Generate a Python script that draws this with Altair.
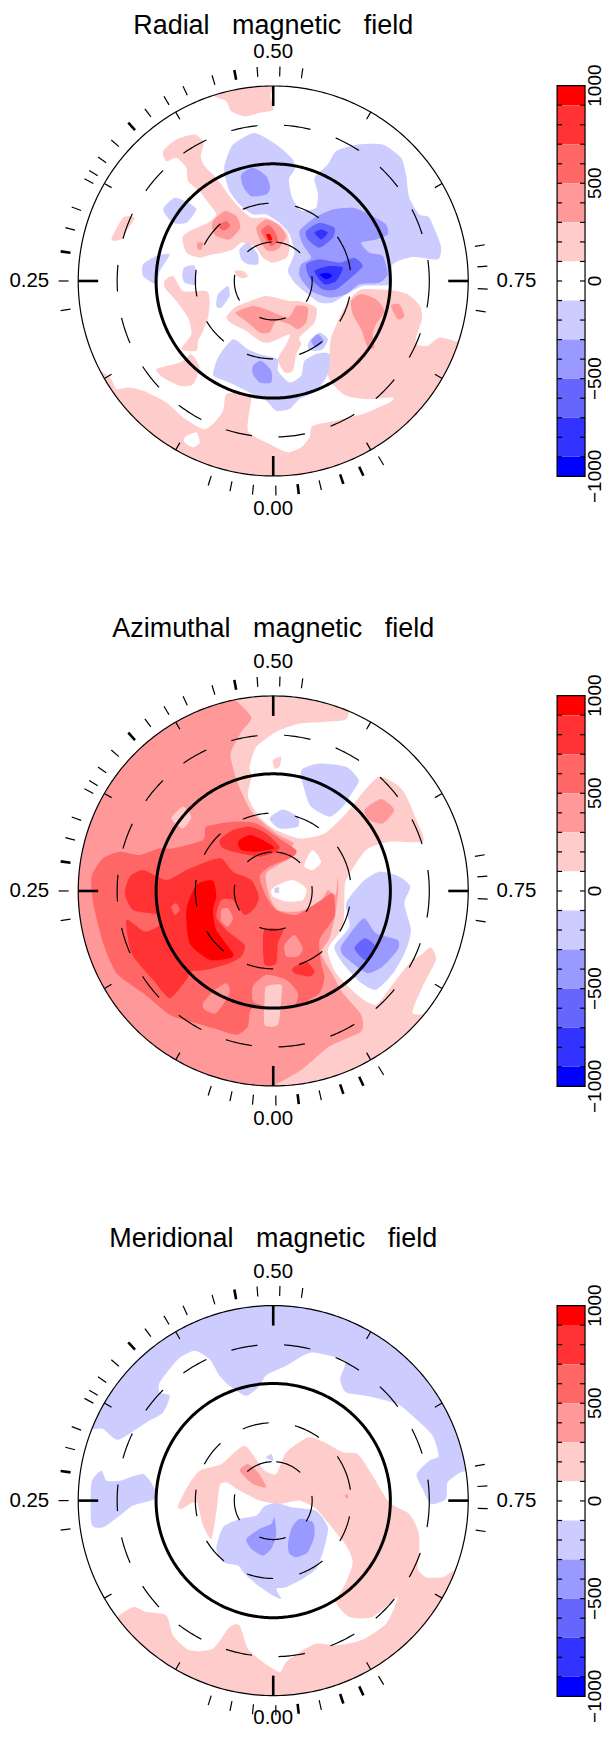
import numpy as np
import pandas as pd
import altair as alt

# ---- colour levels -------------------------------------------------------
LEVELS = ["w", "p1", "p2", "p3", "p4", "p5", "n1", "n2", "n3", "n4", "n5"]
COLORS = ["#ffffff", "#ffcccc", "#ff9999", "#ff6666", "#ff3333", "#ff0000",
          "#ccccff", "#9999ff", "#6666ff", "#3333ff", "#0000ff"]
BAND_LOW = [900, 700, 500, 300, 100, -100, -300, -500, -700, -900, -1000]
BAND_HIGH = [1000, 900, 700, 500, 300, 100, -100, -300, -500, -700, -900]
BAND_LEVEL = ["p5", "p4", "p3", "p2", "p1", "w", "n1", "n2", "n3", "n4", "n5"]
BAR_TICKS = [-900, -800, -700, -600, -500, -400, -300, -200, -100, 0, 100, 200, 300, 400, 500, 600, 700, 800, 900]
BAR_LABELS = [-1000, -500, 0, 500, 1000]

# observation phases (outer ticks)
PHASES = [0.998, 0.0154, 0.0323, 0.049, 0.964, 0.914, 0.773, 0.756, 0.739, 0.723,
          0.522, 0.505, 0.488, 0.454, 0.431, 0.415, 0.398, 0.364, 0.348, 0.336,
          0.329, 0.306, 0.29, 0.25, 0.228]
PHASES_BOLD = [0.981, 0.947, 0.931, 0.471, 0.382, 0.272]
GRID_PHASES = [1/12, 2/12, 4/12, 5/12, 7/12, 8/12, 10/12, 11/12]
QUARTER_PHASES = [0, 0.25, 0.5, 0.75]

# contour outlines in map units (3 units per pixel); "rim:a:b" follows the limb
RADIAL = [
 ("p1", [645,275,730,250,815,248,812,285,822,325,780,335,735,345,695,330,680,300,650,288]),
 ("p1", [490,450,530,415,585,400,612,425,603,465,615,495,640,520,665,550,690,585,720,620,755,650,800,650,840,670,865,700,870,745,860,770,820,785,790,770,770,740,750,730,725,725,700,745,670,755,640,760,600,770,560,755,548,710,570,690,625,665,650,640,630,610,600,570,565,540,560,500,530,470,500,480]),
 ("p1", [335,715,370,650,405,650,380,690,365,715]),
 ("p1", [495,840,520,825,550,870,620,870,630,900,625,950,610,990,595,1020,590,1050,545,1045,575,1000,565,950,530,900,495,860]),
 ("p1", [470,1105,540,1085,575,1060,600,1100,580,1150,540,1155,490,1130]),
 ("p1", [705,810,730,810,745,825,730,832,712,825]),
 ("p1", ["rim:108:246",330,1130,350,1165,385,1160,430,1170,500,1205,550,1250,610,1285,640,1270,670,1230,680,1180,730,1175,755,1190,745,1290,810,1330,865,1355,905,1340,930,1310,940,1275,1010,1260,1090,1240,1170,1205,1180,1190,1100,1195,1040,1185,1000,1150,985,1120,990,1070,995,1010,1030,930,1060,885,1090,865,1175,868,1225,880,1262,915,1268,955,1253,1000,1250,1030,1285,1035,1320,1010,1365,1020]),
 ("w", [555,1310,590,1295,600,1325,580,1340,555,1325]),
 ("p1", [680,950,705,920,740,905,800,885,870,900,900,900,950,920,945,965,900,1010,905,1030,890,1060,880,1110,855,1115,835,1075,860,1030,870,1000,810,1025,780,1020,740,990,700,970]),
 ("p2", [708,935,760,915,800,925,865,950,890,915,925,920,920,965,895,985,870,970,830,960,810,995,780,995,745,965]),
 ("p2", [1055,900,1085,880,1130,895,1155,930,1130,970,1120,1000,1125,1040,1105,1040,1085,985,1060,940]),
 ("p2", [1175,915,1200,910,1215,945,1195,955]),
 ("p2", [640,660,675,630,710,645,722,680,690,715,650,705,638,685]),
 ("p3", [660,670,680,660,692,675,675,688,660,682]),
 ("p2", [770,680,800,655,835,670,860,705,835,745,805,750,785,725]),
 ("p3", [785,690,805,672,825,690,835,720,815,735,798,715]),
 ("p5", [800,700,812,700,818,715,808,718]),
 ("p2", [592,725,610,725,605,745,595,745]),
 ("n1", [675,490,700,430,765,395,830,430,880,475,885,505,868,535,878,590,905,628,950,620,955,575,945,530,985,490,1010,450,1075,430,1150,430,1205,470,1220,520,1230,590,1260,640,1290,650,1325,735,1315,775,1240,768,1180,790,1172,850,1090,855,1040,880,1000,905,960,905,925,880,890,850,865,810,885,755,870,700,840,665,800,640,760,640,720,610,690,570,675,520]),
 ("n1", [490,625,525,590,565,605,590,625,560,665,520,665]),
 ("n1", [430,790,470,765,510,760,480,810,470,850,430,825]),
 ("n1", [553,800,585,795,590,850,555,845,548,825]),
 ("n1", [720,745,745,725,775,760,775,790,745,790,725,775]),
 ("n1", [655,880,685,855,690,885,665,920,650,915]),
 ("n1", [930,1020,960,995,985,1015,970,1045,940,1050,925,1040]),
 ("n2", [935,1020,955,1000,972,1020,950,1040]),
 ("n1", [640,1120,655,1070,700,1015,745,1045,780,1060,835,1075,835,1110,870,1145,905,1125,915,1080,955,1058,990,1060,985,1120,950,1170,900,1195,870,1225,830,1230,800,1200,760,1180,700,1150,650,1130]),
 ("n2", [760,1095,785,1080,815,1110,815,1145,780,1145,760,1120]),
 ("n2", [725,520,760,500,800,525,812,560,800,580,755,585,730,555]),
 ("n2", [900,690,945,650,1000,625,1060,620,1110,640,1160,670,1165,700,1130,715,1085,725,1110,755,1150,765,1165,820,1140,845,1080,850,1040,880,990,890,935,870,900,825,905,790,935,770,910,730]),
 ("n3", [920,690,960,665,1005,680,1000,710,960,740,925,715]),
 ("n3", [920,790,960,775,1020,785,1065,770,1090,795,1060,825,1010,865,970,865,930,830]),
 ("n4", [945,695,965,685,985,695,965,715]),
 ("n4", [945,810,990,795,1030,800,1010,840,975,850]),
 ("n5", [960,820,985,815,998,825,980,835]),
]

AZIMUTHAL = [
 ("p1", ["rim:0:360"]),
 ("w", [750,470,770,410,830,365,900,340,975,335,1040,328,"rim:23:127",1240,1210,1270,1130,1310,1050,1295,1012,1265,1035,1230,1060,1175,1130,1130,1185,1080,1160,1010,1090,985,1020,1030,950,1035,860,1040,810,1100,720,1170,695,1270,695,1260,650,1210,540,1140,500,1080,560,1040,610,975,670,900,685,820,655,775,615,745,560,755,500]),
 ("p1", [820,450,845,440,840,470,825,475]),
 ("p2", ["rim:347:184",900,1385,990,1310,1085,1265,1085,1215,1030,1150,1000,1095,965,1030,990,985,1010,900,1010,790,885,700,830,670,760,610,725,545,705,490,693,430,725,365,755,320]),
 ("p2", [1095,600,1145,567,1185,600,1150,640,1110,630]),
 ("p1", [515,625,550,590,575,620,550,655]),
 ("p1", [800,790,870,745,885,700,1010,700,1010,850,985,840,960,880,895,905,835,900,810,860]),
 ("p3", [275,800,310,745,360,725,420,735,480,715,520,715,610,690,620,650,700,635,770,640,840,685,890,720,880,740,810,770,780,800,800,860,830,900,890,915,950,880,1000,850,1005,920,960,990,965,1060,975,1100,960,1150,895,1185,760,1195,745,1250,710,1275,640,1255,570,1235,510,1215,430,1150,350,1090,310,1000,280,880]),
 ("p2", [760,1130,800,1095,860,1110,895,1150,885,1190,840,1210,830,1245,795,1245,790,1190,760,1175]),
 ("p1", [800,1130,845,1125,845,1170,835,1245,795,1245,795,1175]),
 ("p2", [610,1180,640,1145,680,1120,690,1150,650,1210,615,1200]),
 ("p2", [665,900,685,895,700,925,685,950,665,935]),
 ("p2", [855,1005,885,975,910,1015,895,1040,860,1040]),
 ("p4", [375,850,390,800,430,780,500,810,560,780,620,755,665,745,700,785,755,810,778,860,765,895,735,915,700,870,665,870,650,920,680,960,735,1005,725,1040,690,1060,620,1080,575,1085,560,1110,510,1165,460,1110,395,1030,380,930,435,965,480,945,475,915,400,900]),
 ("p3", [515,890,530,880,540,900,525,915]),
 ("p4", [660,690,700,660,750,650,800,670,840,710,820,730,780,740,720,730,670,715]),
 ("p5", [715,695,750,675,790,690,825,715,770,725,725,720]),
 ("p5", [560,900,590,825,640,812,650,860,640,900,650,960,700,1030,690,1045,630,1050,570,1000]),
 ("p4", [790,980,800,955,850,960,835,1000,830,1060,795,1065]),
 ("p4", [880,1075,920,1055,945,1085,930,1100,885,1090]),
 ("w", [815,840,835,825,880,810,920,835,910,870,860,875,820,860]),
 ("n1", [825,835,838,832,838,848,826,848]),
 ("w", [920,750,940,720,965,755,940,780,915,770]),
 ("n1", [905,480,960,460,1040,470,1078,510,1060,545,1030,590,990,620,935,590,915,540]),
 ("n1", [810,625,850,598,895,620,895,650,840,655]),
 ("n1", [1040,880,1090,815,1140,785,1200,800,1233,830,1215,880,1235,960,1220,1020,1185,1085,1130,1140,1080,1115,1030,1060,1005,1010,1050,950]),
 ("n2", [1025,1010,1060,960,1095,925,1130,970,1195,990,1195,1020,1150,1070,1105,1090,1060,1060,1030,1035]),
 ("n3", [1065,1015,1095,985,1125,1005,1120,1040,1095,1050]),
]

MERIDIONAL = [
 ("n1", ["rim:291:441",1385,760,1345,790,1340,840,1295,855,1270,810,1252,765,1290,725,1318,710,1300,650,1250,600,1195,555,1100,530,1040,520,1022,480,1035,425,935,400,860,440,800,468,780,500,740,530,690,500,660,470,630,420,585,395,535,420,480,490,480,520,510,530,490,580,440,610,355,662,310,630,280,630]),
 ("n1", [275,790,305,755,320,785,360,785,430,765,465,810,465,840,400,860,360,890,310,925,275,915]),
 ("p1", [535,860,565,800,600,755,665,735,735,680,790,750,830,765,860,700,925,655,975,670,1030,700,1075,705,1120,770,1170,850,1230,885,1258,940,1260,1000,1255,1050,1280,1075,1330,1075,1365,1055,"rim:111:233",400,1165,440,1180,500,1190,520,1250,570,1295,640,1290,690,1225,720,1220,745,1290,790,1330,840,1360,860,1330,900,1300,950,1275,1010,1280,1085,1265,1160,1215,1195,1135,1120,1195,1050,1195,1010,1150,1040,1090,1060,1030,1040,980,985,910,950,870,900,845,840,855,780,845,720,815,680,790,660,800,650,880,635,960,610,920,590,850,545,870]),
 ("n1", [800,715,815,705,822,725,810,722]),
 ("p2", [720,755,745,735,775,760,800,805,760,795]),
 ("p2", [1035,830,1045,825,1045,840]),
 ("n1", [650,990,670,925,720,900,770,890,795,862,830,852,880,866,950,876,985,925,975,985,950,1050,910,1080,860,1105,830,1110,845,1140,820,1130,775,1100,735,1065,715,1040,670,1030]),
 ("n2", [740,960,780,930,815,915,825,895,830,950,815,990,790,1010,755,990]),
 ("n2", [865,980,875,930,900,900,940,910,945,950,925,1000,890,1015,870,1005]),
]

CX = 821
R_UNITS = 586


def outline_rows(outlines, cy):
    rows = []
    for pid, (lev, flat) in enumerate(outlines):
        pts = []
        k = 0
        while k < len(flat):
            if isinstance(flat[k], str):
                _, a, b = flat[k].split(":")
                a, b = float(a), float(b)
                n = max(2, int(abs(b - a) / 6) + 1)
                for t in np.radians(np.linspace(a, b, n)):
                    pts.append((CX + 606 * np.sin(t), cy - 606 * np.cos(t)))
                k += 1
            else:
                pts.append((flat[k], flat[k + 1]))
                k += 2
        for i, (x, y) in enumerate(pts):
            rows.append(dict(poly=f"{pid:03d}", level=lev, i=i, x=x, y=y))
    return pd.DataFrame(rows)


def ring(cy, radius, start):
    t = np.radians(start + np.arange(0, 361, 1.0))
    return pd.DataFrame(dict(i=np.arange(t.size), x=CX + radius * np.sin(t), y=cy - radius * np.cos(t)))


def ticks(cy, phases, r0, r1):
    p = np.array(phases) * 2 * np.pi
    return pd.DataFrame(dict(x=CX - r0 * np.sin(p), y=cy + r0 * np.cos(p),
                             x2=CX - r1 * np.sin(p), y2=cy + r1 * np.cos(p)))


def map_panel(title, title_y, outlines, cy, y0, height, bottom_label_offset=685):
    xs = alt.Scale(domain=[24, 1620], nice=False, zero=False)
    ys = alt.Scale(domain=[y0 + 3 * height, y0], nice=False, zero=False)
    X = alt.X("x:Q", scale=xs, axis=None)
    Y = alt.Y("y:Q", scale=ys, axis=None)

    fills = alt.Chart(outline_rows(outlines, cy)).mark_line(
        strokeWidth=0, interpolate="cardinal-closed", tension=0.35).encode(
        x=X, y=Y, order="i:Q", detail="poly:N",
        fill=alt.Fill("level:N", scale=alt.Scale(domain=LEVELS, range=COLORS), legend=None))

    def circle(radius, width, color="black", start=0, dash=None):
        kw = dict(strokeDash=dash) if dash else {}
        return alt.Chart(ring(cy, radius, start)).mark_line(stroke=color, strokeWidth=width, **kw).encode(x=X, y=Y, order="i:Q")

    def tick_layer(phases, r0, r1, width):
        return alt.Chart(ticks(cy, phases, r0, r1)).mark_rule(stroke="black", strokeWidth=width).encode(
            x=X, y=Y, x2="x2:Q", y2="y2:Q")

    labels = pd.DataFrame(dict(
        x=[CX, CX, 88, 1552], y=[cy - 687, cy + bottom_label_offset, cy, cy],
        t=["0.50", "0.00", "0.25", "0.75"]))
    txt = alt.Chart(labels).mark_text(font="Liberation Sans", fontSize=20.5, color="black", baseline="middle", align="center").encode(
        x=X, y=Y, text="t:N")
    ttl = alt.Chart(pd.DataFrame(dict(x=[821], y=[title_y], t=[title]))).mark_text(
        font="Liberation Sans", fontSize=27, color="black", baseline="middle", align="center").encode(
        x=X, y=Y, text="t:N")

    return alt.layer(
        fills,
        circle(601, 10, "white"),
        circle(469, 1.2, start=90, dash=[26.7, 26.7]),
        circle(234, 1.2, start=62.4, dash=[26.7, 26.7]),
        circle(117, 1.2, start=4.5, dash=[26.7, 26.7]),
        circle(352, 3),
        circle(R_UNITS, 1.2),
        tick_layer(GRID_PHASES, R_UNITS, R_UNITS - 25, 1.2),
        tick_layer(QUARTER_PHASES, R_UNITS, R_UNITS - 60, 2.6),
        tick_layer(PHASES, 615, 645, 1.2),
        tick_layer(PHASES_BOLD, 615, 645, 2.6),
        txt, ttl,
    ).properties(width=532, height=height)


def bar_panel(height, top):
    px_per = 391.4 / 2000
    dom_top = 1000 + top / px_per
    dom_bot = -1000 - (height - top - 391.4) / px_per
    ys = alt.Scale(domain=[dom_bot, dom_top], nice=False, zero=False)
    bands = pd.DataFrame(dict(lo=BAND_LOW, hi=BAND_HIGH, level=BAND_LEVEL))
    b = alt.Chart(bands).mark_rect().encode(
        x=alt.value(0), x2=alt.value(28),
        y=alt.Y("lo:Q", scale=ys, axis=None), y2="hi:Q",
        fill=alt.Fill("level:N", scale=alt.Scale(domain=LEVELS, range=COLORS), legend=None))
    frame = alt.Chart(pd.DataFrame(dict(lo=[-1000], hi=[1000]))).mark_rect(
        fillOpacity=0, stroke="black", strokeWidth=1.2).encode(
        x=alt.value(0), x2=alt.value(28), y=alt.Y("lo:Q", scale=ys, axis=None), y2="hi:Q")
    td = pd.DataFrame(dict(v=BAR_TICKS))
    t1 = alt.Chart(td).mark_rule(stroke="black", strokeWidth=1.2).encode(
        x=alt.value(0), x2=alt.value(5), y=alt.Y("v:Q", scale=ys, axis=None))
    t2 = alt.Chart(td).mark_rule(stroke="black", strokeWidth=1.2).encode(
        x=alt.value(23), x2=alt.value(28), y=alt.Y("v:Q", scale=ys, axis=None))
    ld = pd.DataFrame(dict(v=BAR_LABELS, t=[str(v).replace("-", "\u2212") for v in BAR_LABELS]))
    lab = alt.Chart(ld).mark_text(font="Liberation Sans", fontSize=19, angle=270, color="black",
                                  baseline="middle", align="center").encode(
        x=alt.value(38), y=alt.Y("v:Q", scale=ys, axis=None), text="t:N")
    return alt.layer(b, t1, t2, frame, lab).properties(width=48, height=height)


SP = "\u00a0\u00a0\u00a0"
row1 = alt.hconcat(map_panel(f"Radial{SP}magnetic{SP}field", 73, RADIAL, 840, 24, 596), bar_panel(596, 76.3), spacing=17)
row2 = alt.hconcat(map_panel(f"Azimuthal{SP}magnetic{SP}field", 55, AZIMUTHAL, 843, -18, 611), bar_panel(611, 91.3), spacing=17)
row3 = alt.hconcat(map_panel(f"Meridional{SP}magnetic{SP}field", 58, MERIDIONAL, 845, -15, 514, bottom_label_offset=653), bar_panel(514, 91.3), spacing=17)

chart = alt.vconcat(row1, row2, row3, spacing=0).properties(padding={"left": 0, "top": 0, "right": 0, "bottom": -1}).configure_view(strokeWidth=0)
chart.save("out.html", embed_options={"renderer": "svg", "actions": False})
